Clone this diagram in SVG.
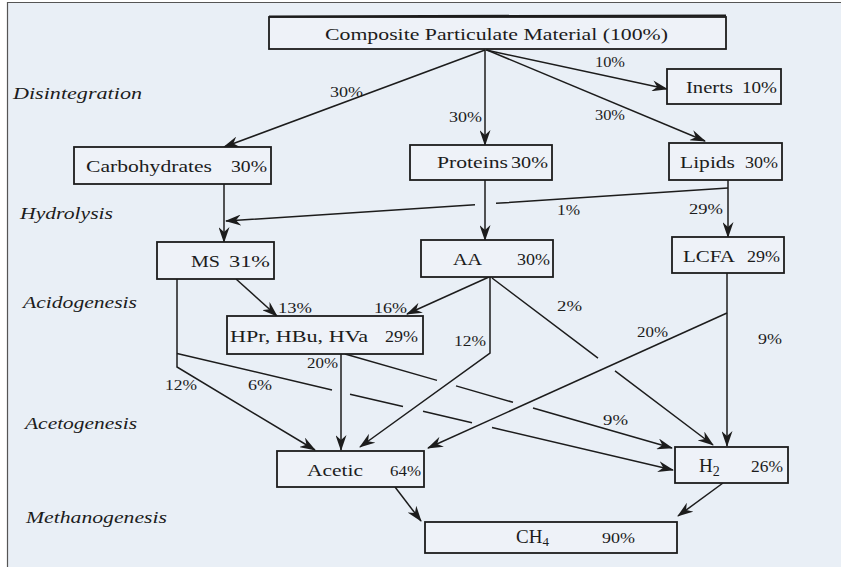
<svg xmlns="http://www.w3.org/2000/svg" width="841" height="567" viewBox="0 0 841 567">
<style>
.box{fill:#eef2f8;stroke:#1c1c1c;stroke-width:1.8}
.t{font-family:"Liberation Serif","Times New Roman",serif;font-size:17px;fill:#1c1c1c}
.p{font-family:"Liberation Serif","Times New Roman",serif;font-size:15px;fill:#1c1c1c}
.s{font-family:"Liberation Serif","Times New Roman",serif;font-size:16px;font-style:italic;fill:#1c1c1c}
.c{fill:none;stroke:#1c1c1c;stroke-width:1.5;marker-end:url(#ah)}
</style>
<defs>
<marker id="ah" viewBox="0 0 16 11" refX="15" refY="5.5" markerWidth="16" markerHeight="11" markerUnits="userSpaceOnUse" orient="auto">
<path d="M0,0 L16,5.5 L0,11 L5,5.5 z" fill="#1c1c1c"/>
</marker>
</defs>
<rect x="0" y="0" width="841" height="567" fill="#ffffff"/>
<rect x="7" y="2" width="834" height="565" fill="#e9eff6"/>
<path d="M7.5,567 L7.5,2.5 L841,2.5" fill="none" stroke="#555" stroke-width="1.2"/>

<g id="stages">
<text class="s" x="13" y="99" textLength="129" lengthAdjust="spacingAndGlyphs">Disintegration</text>
<text class="s" x="20" y="219" textLength="93" lengthAdjust="spacingAndGlyphs">Hydrolysis</text>
<text class="s" x="23" y="308" textLength="114" lengthAdjust="spacingAndGlyphs">Acidogenesis</text>
<text class="s" x="25" y="429" textLength="112" lengthAdjust="spacingAndGlyphs">Acetogenesis</text>
<text class="s" x="26" y="523" textLength="141" lengthAdjust="spacingAndGlyphs">Methanogenesis</text>
</g>

<g id="connectors">
<path class="c" d="M485,50 L224,147"/>
<path class="c" d="M485,50 L485,145"/>
<path class="c" d="M486,50 L667,89"/>
<path class="c" d="M487,50 L705,141"/>
<path class="c" d="M224,184 L224,242"/>
<path class="c" d="M728,188 L496,203.3 M475,204.7 L226,221"/>
<path class="c" d="M728,180 L728,237"/>
<path class="c" d="M485,180 L485,240"/>
<path class="c" d="M236,279 L277,316"/>
<path class="c" d="M489,277 L407,314"/>
<path class="c" d="M177,279 L177,367 L315,450"/>
<path class="c" d="M177,353.5 L332,389.9 M350,394.2 L403,406.6 M423,411.3 L472,422.8 M492,427.5 L673,470"/>
<path class="c" d="M341,354 L341,450"/>
<path class="c" d="M345,354 L437,380.4 M456,385.9 L513,402.3 M533,408 L672,448"/>
<path class="c" d="M490,277 L490,353 L360,447"/>
<path class="c" d="M492,278 L598,358.1 M615,370.9 L713,445"/>
<path class="c" d="M727,313 L428,448"/>
<path class="c" d="M727,273 L727,446"/>
<path class="c" d="M395,487 L421,521"/>
<path class="c" d="M723,483 L678,516"/>
</g>

<g id="edge-labels">
<text class="p" x="330" y="97" textLength="33" lengthAdjust="spacingAndGlyphs">30%</text>
<text class="p" x="449" y="122" textLength="33" lengthAdjust="spacingAndGlyphs">30%</text>
<text class="p" x="595" y="67" textLength="30" lengthAdjust="spacingAndGlyphs">10%</text>
<text class="p" x="595" y="120" textLength="30" lengthAdjust="spacingAndGlyphs">30%</text>
<text class="p" x="557" y="215" textLength="23" lengthAdjust="spacingAndGlyphs">1%</text>
<text class="p" x="689" y="214" textLength="34" lengthAdjust="spacingAndGlyphs">29%</text>
<text class="p" x="278" y="313" textLength="34" lengthAdjust="spacingAndGlyphs">13%</text>
<text class="p" x="374" y="313" textLength="33" lengthAdjust="spacingAndGlyphs">16%</text>
<text class="p" x="165" y="390" textLength="32" lengthAdjust="spacingAndGlyphs">12%</text>
<text class="p" x="248" y="390" textLength="24" lengthAdjust="spacingAndGlyphs">6%</text>
<text class="p" x="307" y="368" textLength="31" lengthAdjust="spacingAndGlyphs">20%</text>
<text class="p" x="454" y="346" textLength="32" lengthAdjust="spacingAndGlyphs">12%</text>
<text class="p" x="557" y="311" textLength="25" lengthAdjust="spacingAndGlyphs">2%</text>
<text class="p" x="637" y="337" textLength="31" lengthAdjust="spacingAndGlyphs">20%</text>
<text class="p" x="758" y="344" textLength="24" lengthAdjust="spacingAndGlyphs">9%</text>
<text class="p" x="603" y="425" textLength="25" lengthAdjust="spacingAndGlyphs">9%</text>
</g>

<g id="composite">
<rect class="box" x="269" y="17" width="457" height="32"/>
<path d="M269,16.5 L726,15.5" stroke="#1c1c1c" stroke-width="2.2"/>
<text class="t" x="325" y="40" textLength="343" lengthAdjust="spacingAndGlyphs">Composite Particulate Material (100%)</text>
</g>
<g id="inerts">
<rect class="box" x="667" y="69" width="114" height="35"/>
<text class="t" x="686" y="93" textLength="47" lengthAdjust="spacingAndGlyphs">Inerts</text>
<text class="t" x="742" y="93" textLength="35" lengthAdjust="spacingAndGlyphs">10%</text>
</g>
<g id="carbohydrates">
<rect class="box" x="74" y="147" width="197" height="37"/>
<text class="t" x="86" y="172" textLength="126" lengthAdjust="spacingAndGlyphs">Carbohydrates</text>
<text class="t" x="231" y="172" textLength="36" lengthAdjust="spacingAndGlyphs">30%</text>
</g>
<g id="proteins">
<rect class="box" x="410" y="145" width="142" height="35"/>
<text class="t" x="437" y="168" textLength="71" lengthAdjust="spacingAndGlyphs">Proteins</text>
<text class="t" x="511" y="168" textLength="37" lengthAdjust="spacingAndGlyphs">30%</text>
</g>
<g id="lipids">
<rect class="box" x="669" y="143" width="113" height="37"/>
<text class="t" x="680" y="168" textLength="55" lengthAdjust="spacingAndGlyphs">Lipids</text>
<text class="t" x="745" y="168" textLength="33" lengthAdjust="spacingAndGlyphs">30%</text>
</g>
<g id="ms">
<rect class="box" x="157" y="242" width="117" height="37"/>
<text class="t" x="191" y="267" textLength="29" lengthAdjust="spacingAndGlyphs">MS</text>
<text class="t" x="229" y="267" textLength="41" lengthAdjust="spacingAndGlyphs">31%</text>
</g>
<g id="aa">
<rect class="box" x="421" y="240" width="132" height="37"/>
<text class="t" x="453" y="265" textLength="29" lengthAdjust="spacingAndGlyphs">AA</text>
<text class="t" x="517" y="265" textLength="33" lengthAdjust="spacingAndGlyphs">30%</text>
</g>
<g id="lcfa">
<rect class="box" x="672" y="237" width="112" height="36"/>
<text class="t" x="683" y="262" textLength="52" lengthAdjust="spacingAndGlyphs">LCFA</text>
<text class="t" x="747" y="262" textLength="33" lengthAdjust="spacingAndGlyphs">29%</text>
</g>
<g id="hpr">
<rect class="box" x="227" y="316" width="196" height="38"/>
<text class="t" x="230" y="342" textLength="138" lengthAdjust="spacingAndGlyphs">HPr, HBu, HVa</text>
<text class="t" x="385" y="342" textLength="33" lengthAdjust="spacingAndGlyphs">29%</text>
</g>
<g id="acetic">
<rect class="box" x="277" y="451" width="147" height="36"/>
<text class="t" x="307" y="476" textLength="56" lengthAdjust="spacingAndGlyphs">Acetic</text>
<text class="p" x="390" y="476" textLength="31" lengthAdjust="spacingAndGlyphs">64%</text>
</g>
<g id="h2">
<rect class="box" x="675" y="447" width="113" height="36"/>
<text class="t" x="699" y="472" style="font-size:19px">H<tspan style="font-size:14px" dy="4">2</tspan></text>
<text class="t" x="751" y="472" textLength="32" lengthAdjust="spacingAndGlyphs">26%</text>
</g>
<g id="ch4">
<rect class="box" x="425" y="522" width="252" height="31"/>
<text class="t" x="516" y="543" style="font-size:19px">CH<tspan style="font-size:13px" dy="3">4</tspan></text>
<text class="p" x="602" y="543" textLength="33" lengthAdjust="spacingAndGlyphs">90%</text>
</g>
</svg>
